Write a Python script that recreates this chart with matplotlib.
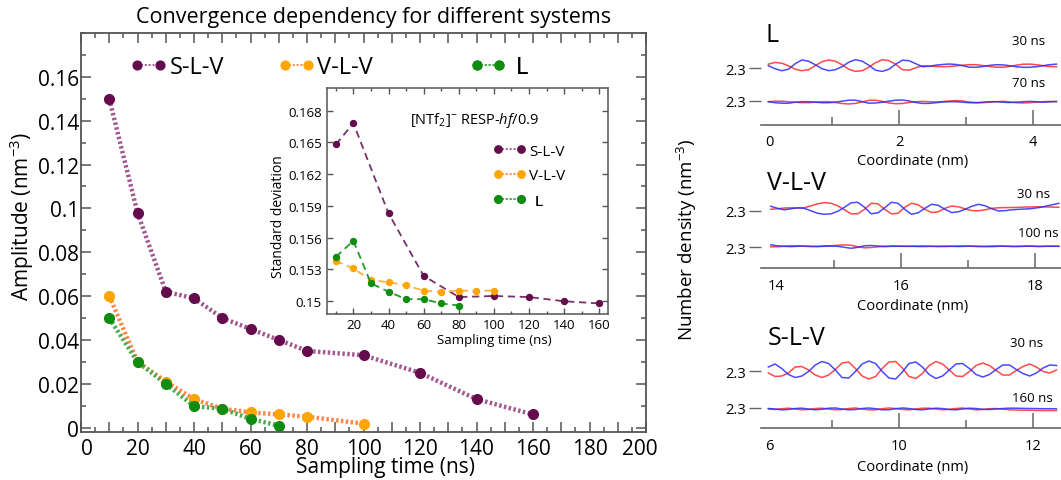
import numpy as np
import matplotlib
matplotlib.use("Agg")
import matplotlib.pyplot as plt
from matplotlib.ticker import MultipleLocator, FixedLocator, FuncFormatter
from matplotlib.lines import Line2D
import matplotlib.transforms as mtransforms

plt.rcParams['font.family'] = ['Open Sans', 'DejaVu Sans']
plt.rcParams['mathtext.fontset'] = 'custom'
plt.rcParams['mathtext.rm'] = 'Open Sans'
plt.rcParams['mathtext.it'] = 'Open Sans:italic'

# ---------------- main panel data ----------------
time_slv = [10, 20, 30, 40, 50, 60, 70, 80, 100, 120, 140, 160]
amp_slv = [0.150, 0.098, 0.062, 0.059, 0.050, 0.045, 0.040, 0.035, 0.033, 0.025, 0.013, 0.006]
time_vlv = [10, 20, 30, 40, 50, 60, 70, 80, 100]
amp_vlv = [0.060, 0.030, 0.021, 0.013, 0.0086, 0.007, 0.006, 0.005, 0.0018]
time_l = [10, 20, 30, 40, 50, 60, 70]
amp_l = [0.050, 0.030, 0.020, 0.0098, 0.0086, 0.004, 0.0009]

# ---------------- inset data ----------------
std_t_slv = [10, 20, 40, 60, 80, 100, 120, 140, 160]
std_slv = [0.1648, 0.1668, 0.1583, 0.1524, 0.1504, 0.1505, 0.1504, 0.1500, 0.1498]
std_t_vlv = [10, 20, 30, 40, 50, 60, 70, 80, 90, 100]
std_vlv = [0.1538, 0.1531, 0.1520, 0.1518, 0.1515, 0.1510, 0.1509, 0.1510, 0.1510, 0.1510]
std_t_l = [10, 20, 30, 40, 50, 60, 70, 80]
std_l = [0.1542, 0.1557, 0.1517, 0.1509, 0.1502, 0.1502, 0.1498, 0.1496]

series_labels = ['S-L-V', 'V-L-V', 'L']

# ---------------- density profile data (right) ----------------
# sample positions along each coordinate axis (axis units from first labelled tick)
prof_pos = np.round(np.arange(0.05, 4.40, 0.1), 2)
# deviations from mean density, in 0.01 nm^-3
L30_blue = [0, -3, -5, -3.5, 2, 5.7, 4.5, 1, -3, -5, -4, -1, 3.5, 6, 4.5, 0.5, -4.5, -5.7, -3.5, 1.5,
            5.5, 5, 2, -1, -0.5, 0.5, 1.2, 1.7, 1.2, 0, -1.5, -1.6, -0.8, 0.3, 1, 0.8, 0, -1, -1.6, -1.6,
            -1, 0, 1, 1.6]
L30_red = [1.5, 3.3, 2.5, 0, -3.5, -5, -4, 0, 4, 5.7, 4.5, 1, -3.5, -5.7, -5, -1.5, 3, 6, 5, 1.5,
           -4, -4.5, -2, 0, -0.5, -0.8, -1, -0.8, -0.2, 0.5, 1, 1, 0.2, -0.8, -1.5, -1.6, -0.8, 0.5, 1.5, 1.6,
           1, 0, -0.8, -1]
L70_blue = [0.5, -0.5, -1, -1, 0, 0.5, 0.5, 0, -0.5, -0.5, 0, 1, 2, 2, 0.5, -1, -0.8, 0, 1, 2,
            2.2, 1.2, -0.3, -1.2, -1.2, -0.5, 0.2, 0.5, 0.5, 0, -0.5, -0.5, 0, 0.5, 0.5, 0, -0.3, 0, 0.5, 0.8,
            0.5, 0, 0.3, 0.8]
L70_red = [0.5, 1, 1, 0.5, 0, -0.5, -0.5, 0, 0.5, 0.5, -0.3, -1.3, -1.8, -1.2, 0.3, 1.8, 2, 0.8, -0.8, -1.5,
           -1.3, -0.3, 0.5, 0.8, 0.5, 0.2, 0.6, 1.2, 1.6, 1.2, 0.2, -0.5, -0.5, 0, 0.5, 0.8, 0.3, -0.5, -0.8, -0.5,
           0, 0.5, 0.8, 0.5]
VLV30_blue = [2, 0, -1.5, -0.5, 0.5, 0, -2.5, -5, -6, -5.5, -3, 1, 5.5, 6, 1, -5.5, -4.5, 0.5, 6, 5,
              -1, -6, -4.5, 0, 4, 3, -1, -4.3, -3.5, -1, 2, 4, 2.5, -0.5, -2.7, -2.3, -1.5, -1, -0.7, -0.2,
              0.7, 2, 3.5, 5]
VLV30_red = [-1, -0.5, 0.3, 0.5, 0.2, 0.5, 2.5, 4.5, 5.7, 5, 2.5, -1.5, -5.5, -5.5, -1, 5, 4.5, -1, -5.5, -5,
             1, 5, 3.5, -1, -4.2, -3.5, 0, 2.3, 1.5, -0.5, -2.3, -2.5, -1.5, 0, 0.5, 0.7, 0.8, 1, 1.2, 1.4,
             1.5, 1.4, 1.2, 1]
VLV100_blue = [1.5, 0.5, 0, -0.3, 0, 0.3, 0, -0.3, 0, 0.3, 0, -1, -2, -1, 0.5, 0.8, 0.3, -0.3, 0, 0,
               0, 0, -0.2, -0.2, 0, 0, 0.2, 0, -0.2, 0, 0.2, 0, -0.3, -0.3, 0, 0.2, 0, -0.2, 0, 0.2,
               0, 0, 0, 0]
VLV100_red = [-0.5, -0.5, 0, 0.5, 0.5, 0, -0.3, 0, 0.5, 0.5, 1, 1.5, 1, -0.5, -1.5, -1.2, -0.5, 0, 0.3, 0.3,
              0, 0, 0.3, 0.3, 0, -0.3, -0.3, 0, 0.3, 0.3, 0, -0.3, 0, 0.3, 0.3, 0, -0.3, 0, 0.3, 0,
              -0.3, 0, 0.3, 0]
SLV30_blue = [3, 6, 1.5, -4.5, -7.5, -6, -1.5, 5, 8.5, 6.5, 0, -7.5, -8, -1.5, 6, 9, 6.5, -1.5, -8, -9,
              -2, 6.5, 8, 3, -4.5, -8.5, -6, 0, 6, 6.5, 1.5, -4.5, -7, -4.5, 0.5, 5, 5, 0.5, -3.5, -6,
              -3, 2, 5, 4.5]
SLV30_red = [-3, -6.5, -6, -3, 3, 3.5, 0, -5, -7.5, -5, 0.5, 7, 8, 1.5, -6, -9, -6.5, 1.5, 8, 8.5,
             2, -6.5, -8.5, -3.5, 4.5, 8.5, 6, 0, -6, -6.5, -1.5, 4.5, 7, 4.5, -0.5, -5, -5, -0.5, 3.5, 6,
             3, -1.5, -3, 0]
SLV160_blue = [0.5, 0, -0.8, -0.5, 0.5, 0.8, 0, -0.8, -0.3, 0.8, 1, 0, -0.8, -0.5, 0.5, 1, 0.3, -0.8, -0.8, 0.3,
               1, 0.5, -0.5, -0.8, 0, 0.8, 0.5, -0.5, -0.8, 0, 0.8, 0.5, -0.3, -0.5, 0, 0.5, 0.8, 0.8, 0.6, 0.5,
               0.4, 0.3, 0.3, 0.2]
SLV160_red = [0, -0.5, 0.3, 0.8, 0, -0.8, -0.5, 0.5, 0.8, 0, -0.8, -0.5, 0.5, 1, 0, -0.8, -0.8, 0.3, 1, 0.5,
              -0.5, -0.8, 0, 0.8, 0.8, 0, -0.8, -0.3, 0.5, 1, 0, -0.8, -0.5, 0.3, 0.5, -0.2, -0.8, -1, -1.2, -1.3,
              -1.4, -1.5, -1.5, -1.5]
# mean density of each profile (nm^-3)
mean_L30, mean_L70 = 2.326, 2.285
mean_VLV30, mean_VLV100 = 2.324, 2.31
mean_SLV30, mean_SLV160 = 2.313, 2.287

coord_ticklabels = {'L': ['0', '2', '4'], 'V-L-V': ['14', '16', '18'], 'S-L-V': ['6', '10', '12']}
time_labels = {'L': ('30 ns', '70 ns'), 'V-L-V': ('30 ns', '100 ns'), 'S-L-V': ('30 ns', '160 ns')}

# ---------------- figure ----------------
W, H = 1061, 481
fig = plt.figure(figsize=(W / 100, H / 100), dpi=100)


def box(l, t, r, b):
    return [l / W, 1 - b / H, (r - l) / W, (b - t) / H]


def ftext(x, y, s, **kw):
    return fig.text(x / W, 1 - y / H, s, **kw)


C_P, C_O, C_G = '#650c4c', '#ffa500', '#108c10'
L_P, L_O, L_G = '#a2578f', '#ff8547', '#4cae4c'
SPINE = '#555555'

# ---------- main axes ----------
ax = fig.add_axes(box(81, 34, 646, 433))
dot = (0, (0.55, 0.55))
ax.plot(time_slv, amp_slv, ls=dot, lw=3.2, color=L_P, marker='o', ms=7, mfc=C_P, mec=C_P)
ax.plot(time_vlv, amp_vlv, ls=dot, lw=3.2, color=L_O, marker='o', ms=7, mfc=C_O, mec=C_O)
ax.plot(time_l, amp_l, ls=dot, lw=3.2, color=L_G, marker='o', ms=7, mfc=C_G, mec=C_G)
ax.set_xlim(0, 200)
ax.set_ylim(-0.002, 0.18)
ax.xaxis.set_major_locator(MultipleLocator(10))
ax.xaxis.set_minor_locator(MultipleLocator(5))
ax.xaxis.set_major_formatter(FuncFormatter(lambda v, p: f'{v:g}' if round(v) % 20 == 0 else ''))
ax.yaxis.set_major_locator(FixedLocator([0, 0.02, 0.04, 0.06, 0.08, 0.1, 0.12, 0.14, 0.16]))
ax.yaxis.set_minor_locator(MultipleLocator(0.01))
ax.yaxis.set_major_formatter(FuncFormatter(lambda v, p: f'{v:g}'))
ax.tick_params(which='both', direction='in', top=True, right=True, color=SPINE, width=1.1)
ax.tick_params(which='major', length=7, labelsize=15)
ax.tick_params(which='minor', length=3.5)
ax.tick_params(axis='y', pad=1.5)
ax.tick_params(axis='x', pad=4)
for s in ax.spines.values():
    s.set_color(SPINE)
    s.set_linewidth(1.3)
fig.canvas.draw()
xt = ax.get_xticklabels()
for t in xt:
    if t.get_text() == '0':
        t.set_horizontalalignment('left')
    if t.get_text() == '200':
        t.set_transform(t.get_transform() + mtransforms.ScaledTranslation(-6 / 100, 0, fig.dpi_scale_trans))

ftext(374, 18, 'Convergence dependency for different systems', fontsize=15.5, ha='center', va='center')
ftext(385, 468, 'Sampling time (ns)', fontsize=15, ha='center', va='center')
ftext(22, 216, r'Amplitude (nm$^{\mathregular{-3}}$)', fontsize=15, ha='center', va='center', rotation=90)


def add_leg(axx, mcol, lcol, label, x_px, y_px, fs, ms, hl, htp):
    h = Line2D([], [], color=lcol, ls=(0, (1, 1)), lw=1.4, marker='o', ms=ms, mfc=mcol, mec=mcol)
    leg = axx.legend([h], [label], loc='center left', bbox_to_anchor=(x_px / W, 1 - y_px / H),
                     bbox_transform=fig.transFigure, frameon=False, fontsize=fs, handlelength=hl,
                     handletextpad=htp, borderpad=0, borderaxespad=0, numpoints=2)
    axx.add_artist(leg)


add_leg(ax, C_P, L_P, series_labels[0], 130.2, 68, 17, 6.3, 1.56, 0.1)
add_leg(ax, C_O, L_O, series_labels[1], 277.9, 68, 17, 6.3, 1.56, 0.1)
add_leg(ax, C_G, L_G, series_labels[2], 469.6, 68, 17, 6.3, 1.56, 0.4)

# ---------- inset ----------
ai = fig.add_axes(box(326.7, 89.3, 607.7, 315))
dash = (0, (4, 2.6))
ai.plot(std_t_slv, std_slv, ls=dash, lw=1.3, color='#7b2f69', marker='o', ms=4.3, mfc=C_P, mec=C_P)
ai.plot(std_t_vlv, std_vlv, ls=dash, lw=1.3, color='#ffae45', marker='o', ms=4.3, mfc=C_O, mec=C_O)
ai.plot(std_t_l, std_l, ls=dash, lw=1.3, color='#22992a', marker='o', ms=4.3, mfc=C_G, mec=C_G)
ai.set_xlim(4.8, 164.8)
ai.set_ylim(0.1488, 0.1701)
ai.xaxis.set_major_locator(MultipleLocator(20))
ai.xaxis.set_minor_locator(MultipleLocator(10))
ai.yaxis.set_major_locator(FixedLocator([0.15, 0.153, 0.156, 0.159, 0.162, 0.165, 0.168]))
ai.yaxis.set_major_formatter(FuncFormatter(lambda v, p: f'{v:g}'))
ai.tick_params(which='both', direction='in', top=True, right=True, color=SPINE, width=1)
ai.tick_params(which='major', length=4, labelsize=9.5)
ai.tick_params(which='minor', length=2.5)
ai.tick_params(axis='y', pad=3.5)
ai.tick_params(axis='x', pad=3)
for s in ai.spines.values():
    s.set_color(SPINE)
    s.set_linewidth(1.1)
ftext(494, 341, 'Sampling time (ns)', fontsize=9.5, ha='center', va='center')
ftext(278, 217, 'Standard deviation', fontsize=10, ha='center', va='center', rotation=90)
ftext(410, 121, r'[NTf$_\mathregular{2}$]$^\mathregular{-}$ RESP-$\mathit{hf}$/0.9', fontsize=10.5,
      ha='left', va='center')
add_leg(ai, C_P, L_P, series_labels[0], 493.1, 152, 11, 5.3, 2.1, 0.25)
add_leg(ai, C_O, L_O, series_labels[1], 493.1, 177, 11, 5.3, 2.1, 0.25)
add_leg(ai, C_G, L_G, series_labels[2], 493.1, 202, 11, 5.3, 2.1, 0.6)

# ---------- density profile panels ----------
panels = [
    ('L', 765.0, 48, 69.3, 101.7, 125.7, (L30_blue, L30_red, mean_L30), (L70_blue, L70_red, mean_L70),
     (766, 36), (1011.7, 41.5), (1011.7, 83.3), 162),
    ('V-L-V', 767.4, 190, 211.7, 248.3, 269, (VLV30_blue, VLV30_red, mean_VLV30),
     (VLV100_blue, VLV100_red, mean_VLV100), (767, 184), (1016.7, 195), (1018.3, 234), 307),
    ('S-L-V', 765.0, 347, 372.3, 408.7, 429, (SLV30_blue, SLV30_red, mean_SLV30),
     (SLV160_blue, SLV160_red, mean_SLV160), (768, 339), (1010, 343.3), (1011.7, 398.3), 468),
]
PXU = 67.0  # pixels per axis unit
for name, x0, ytop, yt, yb, ys, c_hi, c_lo, namepos, t1pos, t2pos, xlab_y in panels:
    axp = fig.add_axes(box(761, ytop, 1061, ys))
    off = (yb - yt) * 0.01
    for (blue, red, mean), shift in ((c_hi, 0.0), (c_lo, off)):
        axp.plot(prof_pos, mean + 0.01 * np.array(red) - shift, color='#ff2a2a', lw=1.1, alpha=0.85)
        axp.plot(prof_pos, mean + 0.01 * np.array(blue) - shift, color='#2a2aff', lw=1.1, alpha=0.85)
    axp.set_xlim((761 - x0) / PXU, (1061 - x0) / PXU)
    axp.set_ylim(2.3 - (ys - yt) * 0.01, 2.3 + (yt - ytop) * 0.01)
    axp.set_yticks([2.3 - off, 2.3])
    axp.set_yticklabels(['2.3', '2.3'])
    axp.set_xticks([0, 2, 4])
    axp.set_xticklabels(coord_ticklabels[name])
    axp.set_xticks([1, 3], minor=True)
    for s in ('top', 'right', 'left'):
        axp.spines[s].set_visible(False)
    axp.spines['bottom'].set_color('#666666')
    axp.spines['bottom'].set_linewidth(1.2)
    axp.tick_params(axis='y', direction='out', length=8.6, width=1, color='#666666', labelsize=10.5, pad=2)
    axp.tick_params(axis='x', which='major', direction='in', length=11, width=1.1, color='#666666',
                    labelsize=10.5, pad=7)
    axp.tick_params(axis='x', which='minor', direction='in', length=5.8, width=1.1, color='#666666')
    axp.set_facecolor('none')
    fig.canvas.draw()
    axp.xaxis.get_major_ticks()[0].tick1line.set_visible(False)
    axp.get_xticklabels()[0].set_horizontalalignment('left')
    ftext(namepos[0], namepos[1], name, fontsize=18, ha='left', va='center')
    ftext(t1pos[0], t1pos[1], time_labels[name][0], fontsize=9.5, ha='left', va='center')
    ftext(t2pos[0], t2pos[1], time_labels[name][1], fontsize=9.5, ha='left', va='center')
    ftext(913, xlab_y, 'Coordinate (nm)', fontsize=10.5, ha='center', va='center')

ftext(687, 240, r'Number density (nm$^{\mathregular{-3}}$)', fontsize=13.5, ha='center', va='center', rotation=90)

fig.savefig('out.png', dpi=100)
